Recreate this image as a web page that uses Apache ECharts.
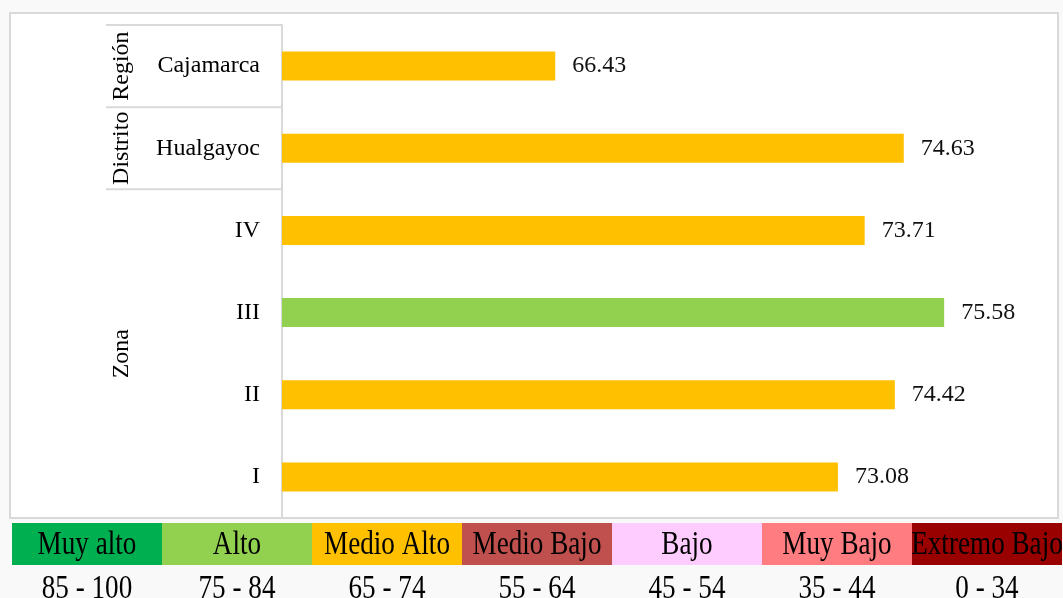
<!DOCTYPE html>
<html>
<head>
<meta charset="utf-8">
<script src="https://cdn.jsdelivr.net/npm/echarts@6/dist/echarts.min.js"></script>
<style>
  html, body { margin: 0; padding: 0; background: #f9f9f9; }
  #chart { width: 1063px; height: 598px; }
</style>
</head>
<body>
<div id="chart"></div>
<script>
// datos del gráfico
const categories = ['Cajamarca', 'Hualgayoc', 'IV', 'III', 'II', 'I'];
const values = [66.43, 74.63, 73.71, 75.58, 74.42, 73.08];
const groupNames = ['Región', 'Distrito', 'Zona'];
const groupSizes = [1, 1, 4];

// escala de niveles
const levelNames = ['Muy alto', 'Alto', 'Medio Alto', 'Medio Bajo', 'Bajo', 'Muy Bajo', 'Extremo Bajo'];
const levelRanges = ['85 - 100', '75 - 84', '65 - 74', '55 - 64', '45 - 54', '35 - 44', '0 - 34'];
const levelMins = [85, 75, 65, 55, 45, 35, 0];
const levelColors = ['#00b050', '#92d050', '#ffc000', '#c0504d', '#ffccff', '#ff7c80', '#990000'];

const serif = "'Times New Roman', 'Liberation Serif', serif";
const gridLine = '#d9d9d9';

const levelColor = v => levelColors[levelMins.findIndex(m => v >= m)];

const chart = echarts.init(document.getElementById('chart'));

chart.setOption({
  backgroundColor: '#f9f9f9',
  animation: false,
  grid: { left: 282, right: 16, top: 25, bottom: 80 },
  xAxis: { type: 'value', min: 60, max: 78, show: false },
  yAxis: {
    type: 'category',
    data: categories,
    inverse: true,
    axisLine: { lineStyle: { color: gridLine, width: 2 } },
    axisTick: { show: false },
    axisLabel: { margin: 22, fontSize: 24, fontFamily: serif, color: '#000' }
  },
  series: [{
    type: 'bar',
    barWidth: 29,
    data: values.map(v => ({ value: v, itemStyle: { color: levelColor(v) } })),
    label: {
      show: true,
      position: 'right',
      distance: 17,
      fontSize: 24,
      fontFamily: serif,
      color: '#111',
      formatter: p => p.value.toFixed(2)
    }
  }]
});

// tabla de grupos a la izquierda, posiciones sacadas del eje
const c0 = chart.convertToPixel({ yAxisIndex: 0 }, 0);
const c1 = chart.convertToPixel({ yAxisIndex: 0 }, 1);
const band = c1 - c0;
const axisX = chart.convertToPixel({ xAxisIndex: 0 }, 60);

const elements = [{
  type: 'rect',
  z: -10,
  shape: { x: 10, y: 13, width: 1048, height: 505 },
  style: { fill: '#fff', stroke: gridLine, lineWidth: 2 }
}];

let start = 0;
groupNames.forEach((name, g) => {
  const top = chart.convertToPixel({ yAxisIndex: 0 }, start) - band / 2;
  const mid = top + band * groupSizes[g] / 2;
  elements.push({
    type: 'line',
    shape: { x1: 106, y1: top, x2: axisX, y2: top },
    style: { stroke: gridLine, lineWidth: 2 }
  });
  elements.push({
    type: 'text',
    x: 122, y: mid,
    rotation: Math.PI / 2,
    style: { text: name, fontSize: 24, fontFamily: serif, fill: '#000', align: 'center', verticalAlign: 'middle' }
  });
  start += groupSizes[g];
});

// leyenda de niveles abajo
levelNames.forEach((name, i) => {
  const cx = 12 + 150 * i + 75;
  elements.push({
    type: 'rect',
    shape: { x: 12 + 150 * i, y: 523, width: 150, height: 42 },
    style: { fill: levelColors[i] }
  });
  elements.push({
    type: 'text',
    x: cx, y: 545,
    scaleX: 0.97, scaleY: 1.2,
    style: { text: name, fontSize: 28, fontFamily: serif, fill: '#000', align: 'center', verticalAlign: 'middle' }
  });
  elements.push({
    type: 'text',
    x: cx, y: 589,
    scaleX: 0.97, scaleY: 1.2,
    style: { text: levelRanges[i], fontSize: 28, fontFamily: serif, fill: '#000', align: 'center', verticalAlign: 'middle' }
  });
});

chart.setOption({ graphic: { elements } });

window.addEventListener('resize', () => chart.resize());
</script>
</body>
</html>
